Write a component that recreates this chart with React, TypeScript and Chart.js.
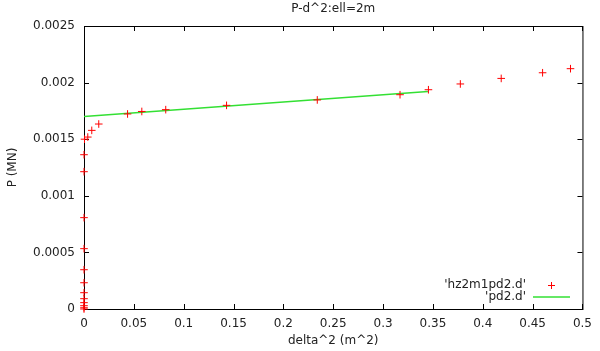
import React, { useEffect, useRef } from "react";
import { Chart, registerables } from "chart.js";

Chart.register(...registerables);

const titleText = "P-d^2:ell=2m";
const xTitle = "delta^2 (m^2)";
const yTitle = "P (MN)";
const series1Label = "'hz2m1pd2.d'";
const series2Label = "'pd2.d'";

const pointsX = [
  0, 0, 0, 0, 0, 0, 0, 0, 0, 0, 0, 0,
  0.0005, 0.0038, 0.0078, 0.0148, 0.0437, 0.058, 0.082, 0.143, 0.234, 0.317, 0.3455, 0.3775, 0.4185, 0.46, 0.488,
];
const pointsY = [
  0, 0.000011, 0.000029, 0.000056, 0.000091, 0.000144, 0.000232, 0.000347, 0.000533, 0.000807, 0.001213, 0.001363,
  0.0015, 0.001519, 0.001578, 0.001634, 0.001723, 0.001745, 0.001761, 0.001799, 0.001847, 0.001893, 0.001937, 0.001988, 0.002037, 0.002087, 0.002123,
];
const lineX = [0, 0.345];
const lineY = [0.0017, 0.001921];

const xTicks = [0, 0.05, 0.1, 0.15, 0.2, 0.25, 0.3, 0.35, 0.4, 0.45, 0.5];
const yTicks = [0, 0.0005, 0.001, 0.0015, 0.002, 0.0025];

const FONT = "'DejaVu Sans', sans-serif";
const TEXT = "#222";
const RED = "#ff0000";
const GREEN = "#33e033";

const fmt = (v: number) => String(Number(v.toFixed(6)));

const framePlugin = {
  id: "frame",
  beforeDatasetsDraw(chart: any) {
    const { ctx, chartArea } = chart;
    const { left, right, top, bottom } = chartArea;
    const xs = chart.scales.x;
    const ys = chart.scales.y;
    ctx.save();
    ctx.strokeStyle = "#000";
    ctx.lineWidth = 1;
    ctx.strokeRect(left + 0.5, top + 0.5, right - left, bottom - top);
    ctx.beginPath();
    const tl = 5;
    xTicks.forEach((v) => {
      const px = Math.round(xs.getPixelForValue(v)) + 0.5;
      ctx.moveTo(px, bottom);
      ctx.lineTo(px, bottom - tl);
      ctx.moveTo(px, top);
      ctx.lineTo(px, top + tl);
    });
    yTicks.forEach((v) => {
      const py = Math.round(ys.getPixelForValue(v)) + 0.5;
      ctx.moveTo(left, py);
      ctx.lineTo(left + tl, py);
      ctx.moveTo(right, py);
      ctx.lineTo(right - tl, py);
    });
    ctx.stroke();

    // titles
    ctx.fillStyle = TEXT;
    ctx.font = `12px ${FONT}`;
    ctx.textAlign = "center";
    ctx.textBaseline = "middle";
    ctx.fillText(titleText, (left + right) / 2, 9);
    ctx.fillText(xTitle, (left + right) / 2, 341);
    ctx.save();
    ctx.translate(13, (top + bottom) / 2);
    ctx.rotate(-Math.PI / 2);
    ctx.fillText(yTitle, 0, 0);
    ctx.restore();

    // legend
    ctx.textAlign = "right";
    ctx.fillText(series1Label, 526, 285);
    ctx.fillText(series2Label, 526, 297);
    ctx.strokeStyle = RED;
    ctx.beginPath();
    ctx.moveTo(548, 285.5);
    ctx.lineTo(555, 285.5);
    ctx.moveTo(551.5, 282);
    ctx.lineTo(551.5, 289);
    ctx.stroke();
    ctx.strokeStyle = GREEN;
    ctx.lineWidth = 1.5;
    ctx.beginPath();
    ctx.moveTo(533, 297);
    ctx.lineTo(570, 297);
    ctx.stroke();
    ctx.restore();
  },
};

export default function App() {
  const ref = useRef<HTMLCanvasElement>(null);
  useEffect(() => {
    document.body.style.margin = "0";
    const canvas = ref.current!;
    const chart = new Chart(canvas, {
      type: "scatter",
      data: {
        datasets: [
          {
            label: series2Label,
            data: lineX.map((x, i) => ({ x, y: lineY[i] })),
            showLine: true,
            pointRadius: 0,
            borderColor: GREEN,
            borderWidth: 1.5,
            order: 2,
          },
          {
            label: series1Label,
            data: pointsX.map((x, i) => ({ x, y: pointsY[i] })),
            pointStyle: "cross",
            pointRadius: 3.8,
            borderColor: RED,
            backgroundColor: RED,
            borderWidth: 1,
            showLine: false,
            clip: false,
            order: 1,
          },
        ],
      },
      options: {
        responsive: false,
        animation: false,
        devicePixelRatio: 1,
        layout: { padding: { left: 0, right: 16, top: 26, bottom: 0 } },
        plugins: { legend: { display: false }, tooltip: { enabled: false }, title: { display: false } },
        scales: {
          x: {
            type: "linear",
            min: 0,
            max: 0.5,
            border: { display: false },
            grid: { display: false, drawTicks: false },
            afterBuildTicks: (s: any) => {
              s.ticks = xTicks.map((v) => ({ value: v }));
            },
            afterFit: (s: any) => {
              s.height = 42;
            },
            ticks: {
              padding: 8,
              maxRotation: 0,
              autoSkip: false,
              color: TEXT,
              font: { family: FONT, size: 12 },
              callback: (v: any) => fmt(Number(v)),
            },
          },
          y: {
            type: "linear",
            min: 0,
            max: 0.0025,
            border: { display: false },
            grid: { display: false, drawTicks: false },
            afterBuildTicks: (s: any) => {
              s.ticks = yTicks.map((v) => ({ value: v }));
            },
            afterFit: (s: any) => {
              s.width = 84;
            },
            ticks: {
              padding: 9,
              autoSkip: false,
              color: TEXT,
              font: { family: FONT, size: 12 },
              callback: (v: any) => fmt(Number(v)),
            },
          },
        },
      },
      plugins: [framePlugin],
    } as any);
    return () => chart.destroy();
  }, []);
  return (
    <div style={{ position: "absolute", left: 0, top: 0, width: 600, height: 351, background: "#fff" }}>
      <canvas ref={ref} width={600} height={351} />
    </div>
  );
}
